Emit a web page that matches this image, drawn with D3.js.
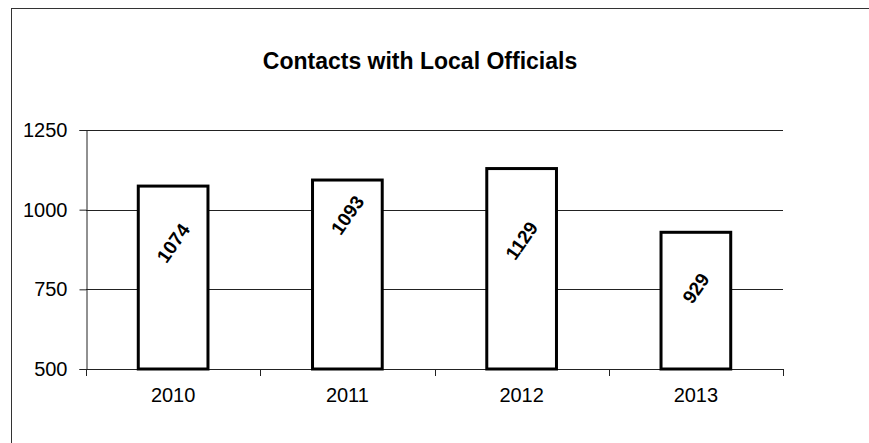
<!DOCTYPE html>
<html><head><meta charset="utf-8">
<script src="https://cdn.jsdelivr.net/npm/d3@7"></script>
<style>body{margin:0;background:#fff}svg{display:block}</style>
</head><body>
<svg id="c" width="869" height="443"></svg>
<script>
const categories = ["2010","2011","2012","2013"];
const values = [1074,1093,1129,929];
const yTicks = [500,750,1000,1250];
const title = "Contacts with Local Officials";

const svg = d3.select("#c");
const font = "Arial, 'Liberation Sans', sans-serif";
svg.append("rect").attr("x",11.5).attr("y",8.5).attr("width",900).attr("height",500)
  .attr("fill","none").attr("stroke","#333").attr("stroke-width",1);

const m = {left:86, right:783, top:130, bottom:369};
const x = d3.scaleBand().domain(categories).range([m.left,m.right]).paddingInner(0.6).paddingOuter(0.3);
const xb = d3.scaleBand().domain(categories).range([m.left,m.right]);
const y = d3.scaleLinear().domain([500,1250]).range([m.bottom,m.top]);

svg.append("text").attr("x",420).attr("y",69).attr("text-anchor","middle")
  .attr("font-family",font).attr("font-weight","bold").attr("font-size",23).text(title);

// gridlines
svg.append("g").selectAll("line").data(yTicks.filter(d=>d>500)).join("line")
  .attr("x1",m.left).attr("x2",m.right).attr("y1",d=>Math.round(y(d))+0.5).attr("y2",d=>Math.round(y(d))+0.5)
  .attr("stroke","#222").attr("stroke-width",1);

// y axis
const ya = svg.append("g").attr("transform",`translate(${m.left+0.5},0)`)
  .call(d3.axisLeft(y).tickValues(yTicks).tickSize(7).tickPadding(12).tickFormat(d3.format("d")));
ya.select(".domain").attr("stroke","#222");
ya.selectAll(".tick line").attr("stroke","#222");
ya.selectAll("text").attr("font-family",font).attr("font-size",20).attr("fill","#000");

// x axis
const xa = svg.append("g").attr("transform",`translate(0,${m.bottom+0.5})`)
  .call(d3.axisBottom(xb).tickSize(0).tickPadding(14));
xa.select(".domain").attr("stroke","#222").attr("d",`M${m.left},0H${m.right}`);
xa.selectAll("text").attr("font-family",font).attr("font-size",20).attr("fill","#000").attr("dy","0.9em");
const bounds = categories.map(c=>xb(c)).concat([m.right]);
svg.append("g").selectAll("line").data(bounds).join("line")
  .attr("x1",d=>Math.round(d)+0.5).attr("x2",d=>Math.round(d)+0.5)
  .attr("y1",m.bottom).attr("y2",m.bottom+7).attr("stroke","#222");

// bars
svg.append("g").selectAll("rect").data(values).join("rect")
  .attr("x",(d,i)=>x(categories[i])).attr("width",x.bandwidth())
  .attr("y",d=>y(d)).attr("height",d=>y(500)-y(d))
  .attr("fill","#fff").attr("stroke","#000").attr("stroke-width",3);

// labels (offset below bar top, as placed in the original)
const labelOffset = [57,35,72,56];
svg.append("g").selectAll("text").data(values).join("text")
  .attr("transform",(d,i)=>`translate(${x(categories[i])+x.bandwidth()/2},${y(d)+labelOffset[i]}) rotate(-55)`)
  .attr("text-anchor","middle").attr("dy","0.35em")
  .attr("font-family",font).attr("font-weight","bold").attr("font-size",19).text(d=>d);
</script>
</body></html>
